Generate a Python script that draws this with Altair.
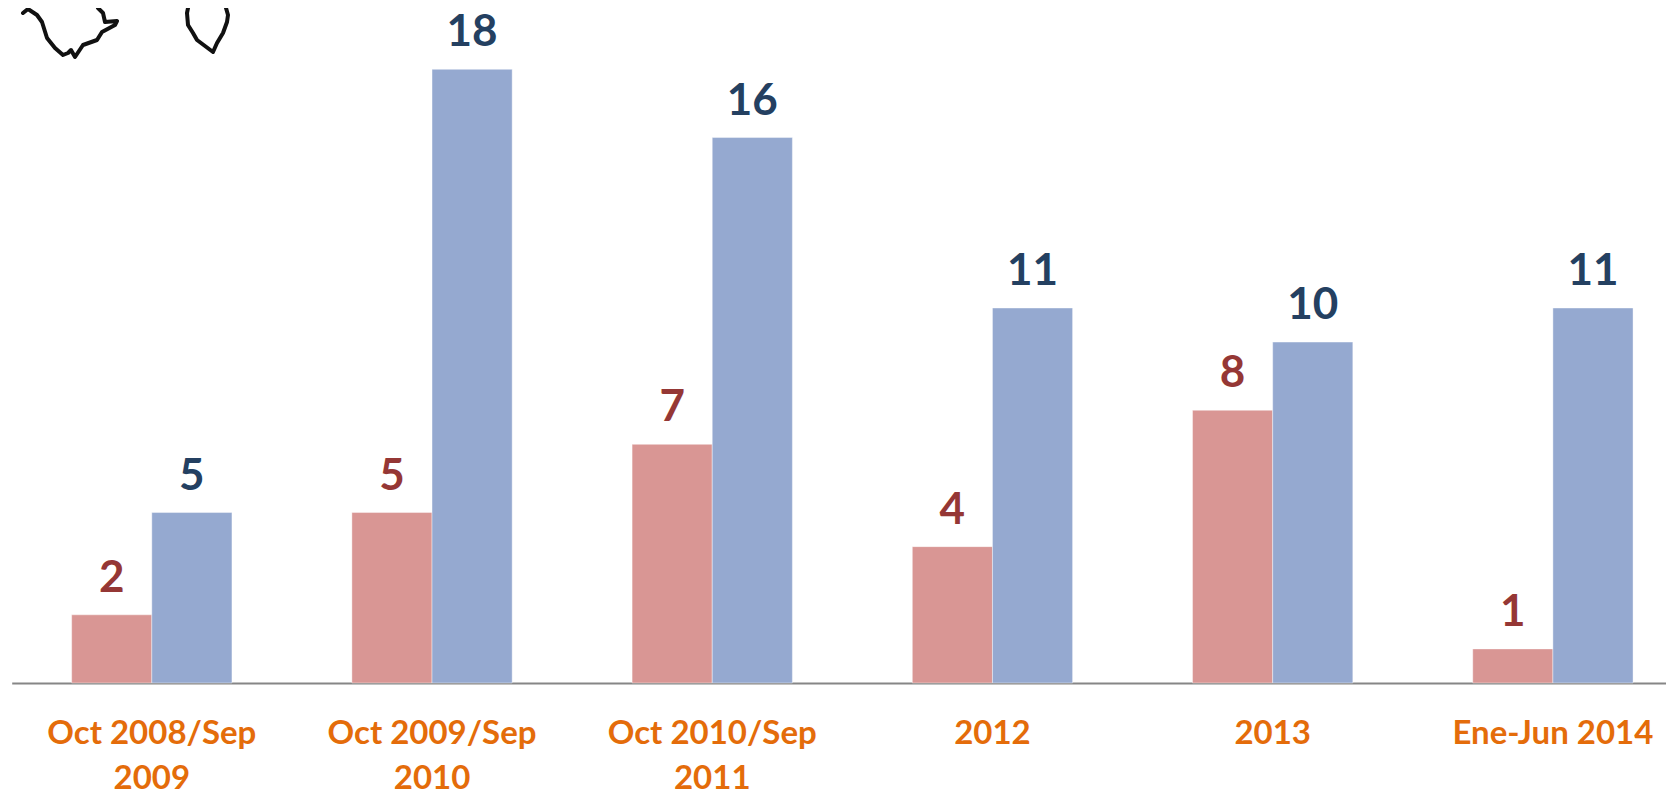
import altair as alt
import pandas as pd

categories = ["Oct 2008/Sep 2009", "Oct 2009/Sep 2010", "Oct 2010/Sep 2011", "2012", "2013", "Ene-Jun 2014"]
red_values = [2, 5, 7, 4, 8, 1]
blue_values = [5, 18, 16, 11, 10, 11]
series_names = ["A", "B"]
bar_colors = ["#D99694", "#95A9D0"]
label_colors = ["#953735", "#244061"]

# Outline fragments of the map in the top-left corner
map_a_x = [23, 28, 37, 42, 47, 55, 63, 68, 71, 75, 83, 97, 102, 115, 117, 105, 103, 98]
map_a_y = [13, 9, 15, 22, 38, 48, 55, 53, 50, 57, 45, 40, 32, 25, 21, 22, 13, 8]
map_b_x = [188, 187, 188, 193, 197, 213, 217, 223, 227, 228, 226]
map_b_y = [8, 13, 25, 33, 40, 52, 43, 33, 22, 15, 8]

df = pd.DataFrame(
    {
        "cat": categories * 2,
        "serie": [series_names[0]] * 6 + [series_names[1]] * 6,
        "value": red_values + blue_values,
    }
)
map_rows = []
for name, xs, ys in [("a", map_a_x, map_a_y), ("b", map_b_x, map_b_y)]:
    for i, (px, py) in enumerate(zip(xs, ys)):
        map_rows.append({"part": name, "i": i, "px": px, "py": py})
map_df = pd.DataFrame(map_rows)

FONT = "Lato"
x_scale = alt.Scale(domain=categories, range=[3.7, 1685], paddingInner=0.428, paddingOuter=0.214)
y_scale = alt.Scale(domain=[0, 19.8], nice=False, zero=True)
off_scale = alt.Scale(domain=series_names)

x_enc = alt.X(
    "cat:N",
    scale=x_scale,
    sort=categories,
    axis=alt.Axis(
        title=None,
        ticks=False,
        labelAngle=0,
        labelColor="#E46C0A",
        labelFont=FONT,
        labelFontWeight="bold",
        labelFontSize=33,
        labelLineHeight=45,
        labelPadding=50,
        labelLimit=400,
        labelOverlap=False,
        labelBaseline="middle",
        domainColor="#868686",
        domainWidth=2,
        grid=False,
        labelExpr="indexof(datum.value, '/Sep ') > 0 ? split(replace(datum.value, '/Sep ', '/Sep|'), '|') : datum.value",
    ),
)
y_enc = alt.Y("value:Q", scale=y_scale, axis=None)

bars = alt.Chart(df).mark_bar(stroke="#ffffff", strokeOpacity=0.4, strokeWidth=1).encode(
    x=x_enc,
    xOffset=alt.XOffset("serie:N", scale=off_scale, sort=series_names),
    y=y_enc,
    fill=alt.Fill("serie:N", scale=alt.Scale(domain=series_names, range=bar_colors), legend=None),
)
text = alt.Chart(df).mark_text(
    font=FONT, fontWeight="bold", fontSize=44, baseline="alphabetic", dy=-23
).encode(
    x=alt.X("cat:N", scale=x_scale, sort=categories, axis=None),
    xOffset=alt.XOffset("serie:N", scale=off_scale, sort=series_names),
    y=y_enc,
    text=alt.Text("value:Q"),
    color=alt.Color("serie:N", scale=alt.Scale(domain=series_names, range=label_colors), legend=None),
)
outline = alt.Chart(map_df).mark_line(color="#111111", strokeWidth=4, strokeJoin="round", strokeCap="round").encode(
    x=alt.X("px:Q", scale=alt.Scale(domain=[8, 1666], nice=False, zero=False), axis=None),
    y=alt.Y("py:Q", scale=alt.Scale(domain=[683, 8], nice=False, zero=False), axis=None),
    detail="part:N",
    order="i:Q",
)

chart = (
    alt.layer(bars, text, outline)
    .resolve_scale(x="independent", y="independent", xOffset="independent")
    .resolve_axis(x="independent", y="independent")
    .properties(
        width=1658,
        height=675,
        padding={"left": 0, "top": 0, "right": 0, "bottom": 109},
        autosize=alt.AutoSizeParams(type="none"),
        background="#ffffff",
    )
    .configure_view(stroke=None)
)
chart.save("out.html", embed_options={"renderer": "svg", "actions": False})
